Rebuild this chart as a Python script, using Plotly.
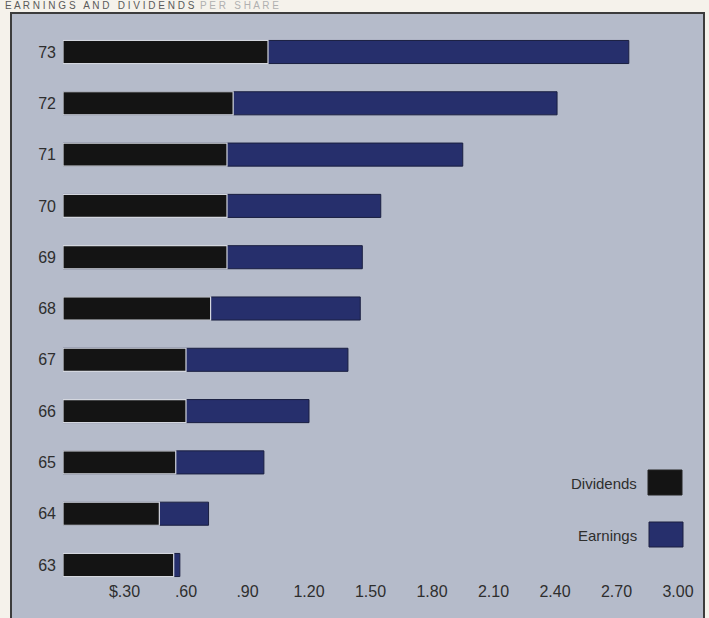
import plotly.graph_objects as go

years = ["63", "64", "65", "66", "67", "68", "69", "70", "71", "72", "73"]
dividends = [0.54, 0.47, 0.55, 0.60, 0.60, 0.72, 0.80, 0.80, 0.80, 0.83, 1.00]
earnings = [0.57, 0.71, 0.98, 1.20, 1.39, 1.45, 1.46, 1.55, 1.95, 2.41, 2.76]
tick_vals = [0.30, 0.60, 0.90, 1.20, 1.50, 1.80, 2.10, 2.40, 2.70, 3.00]
tick_text = ["$.30", ".60", ".90", "1.20", "1.50", "1.80", "2.10", "2.40", "2.70", "3.00"]

W, H = 709, 618
L, R, T, B = 63, 9, 13, 38
PW, PH = W - L - R, H - T - B

def fx(px):
    return (px - L) / PW

def fy(py):
    return (H - B - py) / PH

BG = "#b5bbca"
BLACK = "#141414"
BLUE = "#262f6c"
TXT = "#2e2e2e"
FONT = "Liberation Sans"

fig = go.Figure()
fig.add_trace(go.Bar(
    y=years, x=earnings, orientation="h", name="Earnings",
    marker=dict(color=BLUE, line=dict(color="#1a1f40", width=1)),
    width=0.45,
))
fig.add_trace(go.Bar(
    y=years, x=dividends, orientation="h", name="Dividends",
    marker=dict(color=BLACK, line=dict(color="#d4d7df", width=1.2)),
    width=0.45,
))

shapes = [
    dict(type="rect", xref="paper", yref="paper",
         x0=fx(11), x1=fx(704), y0=fy(13), y1=fy(640),
         fillcolor=BG, line=dict(color="#3c3c3c", width=2), layer="below"),
    dict(type="rect", xref="paper", yref="paper",
         x0=fx(648), x1=fx(682), y0=fy(470), y1=fy(495),
         fillcolor=BLACK, line=dict(color="#222", width=1)),
    dict(type="rect", xref="paper", yref="paper",
         x0=fx(649), x1=fx(683), y0=fy(522), y1=fy(547),
         fillcolor=BLUE, line=dict(color="#1a1f40", width=1)),
]

annotations = [
    dict(xref="paper", yref="paper", x=fx(639), y=fy(483), xanchor="right", yanchor="middle",
         text="Dividends", showarrow=False, font=dict(family=FONT, size=15, color=TXT)),
    dict(xref="paper", yref="paper", x=fx(639), y=fy(535), xanchor="right", yanchor="middle",
         text="Earnings", showarrow=False, font=dict(family=FONT, size=15, color=TXT)),
    dict(xref="paper", yref="paper", x=fx(4), y=fy(6), xanchor="left", yanchor="middle",
         text="<span style='color:#5a5a5a'>E A R N I N G S   A N D   D I V I D E N D S</span>"
              "  <span style='color:#b0b0b0'>P E R   S H A R E</span>",
         showarrow=False, borderpad=0, font=dict(family=FONT, size=10)),
]

fig.update_layout(
    width=W, height=H,
    margin=dict(l=L, r=R, t=T, b=B),
    paper_bgcolor="#f5f2eb",
    plot_bgcolor="rgba(0,0,0,0)",
    barmode="overlay",
    showlegend=False,
    shapes=shapes,
    annotations=annotations,
    xaxis=dict(range=[0, PW / 205.0], tickvals=tick_vals, ticktext=tick_text,
               showgrid=False, zeroline=False, showline=False, ticks="",
               tickfont=dict(family=FONT, size=16, color=TXT)),
    yaxis=dict(type="category", categoryorder="array", categoryarray=years,
               range=[-15 / 51.3, 10 + 39 / 51.3],
               showgrid=False, zeroline=False, showline=False, ticks="",
               ticklabelstandoff=6,
               tickfont=dict(family=FONT, size=16, color=TXT)),
)

fig.write_html("out.html")
